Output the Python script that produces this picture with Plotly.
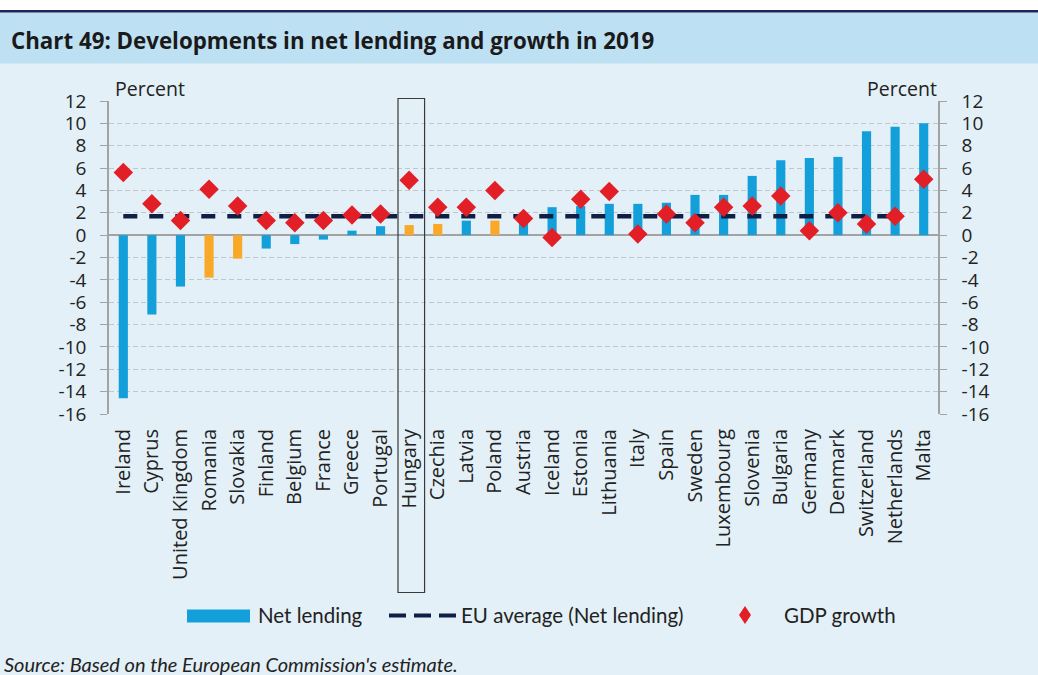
import plotly.graph_objects as go

# ── Data ──────────────────────────────────────────────────────────────────────
countries = [
    "Ireland", "Cyprus", "United Kingdom", "Romania", "Slovakia", "Finland",
    "Belgium", "France", "Greece", "Portugal", "Hungary", "Czechia", "Latvia",
    "Poland", "Austria", "Iceland", "Estonia", "Lithuania", "Italy", "Spain",
    "Sweden", "Luxembourg", "Slovenia", "Bulgaria", "Germany", "Denmark",
    "Switzerland", "Netherlands", "Malta",
]
net_lending = [
    -14.6, -7.1, -4.6, -3.8, -2.1, -1.2, -0.8, -0.4, 0.4, 0.8, 0.9, 1.0, 1.3,
    1.3, 1.4, 2.5, 2.6, 2.8, 2.8, 2.9, 3.6, 3.6, 5.3, 6.7, 6.9, 7.0, 9.3, 9.7,
    10.0,
]
gdp_growth = [
    5.6, 2.8, 1.3, 4.1, 2.6, 1.3, 1.1, 1.3, 1.8, 1.9, 4.9, 2.5, 2.5, 4.0, 1.5,
    -0.2, 3.2, 3.9, 0.1, 1.9, 1.1, 2.5, 2.6, 3.5, 0.4, 2.0, 1.0, 1.7, 5.0,
]
eu_average = 1.7
highlighted = ["Romania", "Slovakia", "Hungary", "Czechia", "Poland"]
y_ticks = list(range(-16, 13, 2))
y_tick_labels = [str(v) for v in y_ticks]

# ── Style ─────────────────────────────────────────────────────────────────────
_BLUE = "#139FD9"
_ORANGE = "#F9A828"
_RED = "#E21F27"
_NAVY = "#0F1E45"
_AXIS = "#A3A3A3"
_GRID = "#C3C6C8"
_BG = "#E3F0F7"
_BAND = "#BEE0F3"
_TEXT = "#222222"
_FONT = "Open Sans, sans-serif"
_LEG = "Lato, sans-serif"

W, H = 1038, 675
ML, MR, MT, MB = 109, 100, 101, 261


def px_x(px):
    return (px - ML) / (W - ML - MR)


def px_y(py):
    return (H - MB - py) / (H - MT - MB)


bar_colours = [_ORANGE if c in highlighted else _BLUE for c in countries]

fig = go.Figure()
fig.add_trace(go.Bar(
    x=countries, y=net_lending, width=0.32,
    marker=dict(color=bar_colours, line=dict(width=0)),
    showlegend=False,
))
fig.add_trace(go.Scatter(
    x=[countries[0], countries[-2]], y=[eu_average, eu_average],
    mode="lines", line=dict(color=_NAVY, width=4.5, dash="14px,12px"),
    showlegend=False,
))
fig.add_trace(go.Scatter(
    x=countries, y=gdp_growth, mode="markers", yaxis="y2",
    marker=dict(symbol="diamond", size=15, color=_RED),
    showlegend=False,
))

hu = countries.index("Hungary")
# tall legend diamond, centre (745, 615), 12 px wide, 18 px high
dx, dy, cx, cy = 6, 9, 745, 615
diamond_path = (
    f"M {px_x(cx)},{px_y(cy - dy)} L {px_x(cx + dx)},{px_y(cy)} "
    f"L {px_x(cx)},{px_y(cy + dy)} L {px_x(cx - dx)},{px_y(cy)} Z"
)

shapes = [
    # page background strip, header rule and title band
    dict(type="rect", xref="paper", yref="paper", x0=px_x(0), x1=px_x(W),
         y0=px_y(0), y1=px_y(10), fillcolor="white", line_width=0, layer="below"),
    dict(type="rect", xref="paper", yref="paper", x0=px_x(0), x1=px_x(W),
         y0=px_y(10), y1=px_y(12.5), fillcolor="#1C2557", line_width=0),
    dict(type="rect", xref="paper", yref="paper", x0=px_x(0), x1=px_x(W),
         y0=px_y(12.5), y1=px_y(63.5), fillcolor=_BAND, line_width=0, layer="below"),
    # Hungary highlight box
    dict(type="rect", xref="x", yref="paper", x0=hu - 0.39, x1=hu + 0.54,
         y0=px_y(592.5), y1=px_y(98.5), line=dict(color="#3A3A3A", width=1.2),
         fillcolor="rgba(0,0,0,0)"),
    # custom legend
    dict(type="rect", xref="paper", yref="paper", x0=px_x(187), x1=px_x(250),
         y0=px_y(622.5), y1=px_y(609.5), fillcolor=_BLUE, line_width=0),
    dict(type="line", xref="paper", yref="paper", x0=px_x(389), x1=px_x(456),
         y0=px_y(615.5), y1=px_y(615.5),
         line=dict(color=_NAVY, width=4, dash="17px,8px")),
    dict(type="path", xref="paper", yref="paper", path=diamond_path,
         fillcolor=_RED, line_width=0),
]

annotations = [
    dict(text="<b>Chart 49: Developments in net lending and growth in 2019</b>",
         xref="paper", yref="paper", x=px_x(9), y=px_y(40), xanchor="left",
         yanchor="middle", showarrow=False,
         font=dict(family=_FONT, size=22.3, color="#1A1A1A")),
    dict(text="Percent", xref="paper", yref="paper", x=px_x(113), y=px_y(88),
         xanchor="left", yanchor="middle", showarrow=False,
         font=dict(family=_FONT, size=19.5, color=_TEXT)),
    dict(text="Percent", xref="paper", yref="paper", x=px_x(939), y=px_y(88),
         xanchor="right", yanchor="middle", showarrow=False,
         font=dict(family=_FONT, size=19.5, color=_TEXT)),
    dict(text="Net lending", xref="paper", yref="paper", x=px_x(256), y=px_y(615),
         xanchor="left", yanchor="middle", showarrow=False,
         font=dict(family=_LEG, size=20.5, color=_TEXT)),
    dict(text="EU average (Net lending)", xref="paper", yref="paper",
         x=px_x(459), y=px_y(615), xanchor="left", yanchor="middle",
         showarrow=False, font=dict(family=_LEG, size=20.5, color=_TEXT)),
    dict(text="GDP growth", xref="paper", yref="paper", x=px_x(782), y=px_y(615),
         xanchor="left", yanchor="middle", showarrow=False,
         font=dict(family=_LEG, size=20.5, color=_TEXT)),
    dict(text="<i>Source: Based on the European Commission's estimate.</i>",
         xref="paper", yref="paper", x=px_x(2), y=px_y(664), xanchor="left",
         yanchor="middle", showarrow=False,
         font=dict(family=_LEG, size=20, color=_TEXT)),
]

_YAX = dict(
    range=[-16, 12], tickvals=y_ticks, ticktext=y_tick_labels,
    ticks="outside", ticklen=7, tickcolor=_AXIS, tickwidth=1.3,
    showline=True, linecolor=_AXIS, linewidth=1.5,
    tickfont=dict(family=_FONT, size=19, color=_TEXT),
)

fig.update_layout(
    width=W, height=H,
    margin=dict(l=ML, r=MR, t=MT, b=MB),
    paper_bgcolor=_BG, plot_bgcolor=_BG,
    font=dict(family=_FONT, color=_TEXT),
    showlegend=False,
    xaxis=dict(
        type="category", tickangle=-90, showline=False, ticks="",
        showgrid=False, tickfont=dict(family=_FONT, size=20, color=_TEXT),
        range=[-0.5, len(countries) - 0.5], ticklabelstandoff=10,
    ),
    yaxis=dict(
        **_YAX, showgrid=True, gridcolor=_GRID, gridwidth=1.3,
        griddash="5px,3px", zeroline=True, zerolinecolor=_AXIS,
        zerolinewidth=1.6, ticklabelstandoff=10,
    ),
    yaxis2=dict(**_YAX, overlaying="y", side="right", showgrid=False,
                zeroline=False, ticklabelstandoff=11),
    shapes=shapes,
    annotations=annotations,
)

fig.write_html(
    "out.html",
    config={"displayModeBar": False},
    post_script="document.body.style.margin='0';document.body.style.overflow='hidden';",
)
